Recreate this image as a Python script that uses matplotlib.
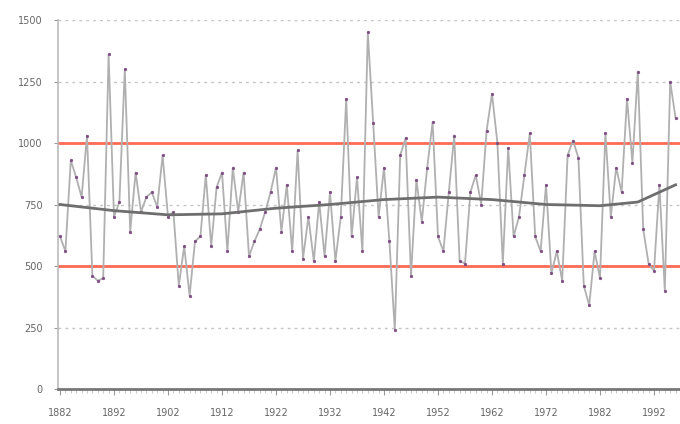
import numpy as np
import matplotlib
matplotlib.use("Agg")
import matplotlib.pyplot as plt
from matplotlib.ticker import MultipleLocator

# ---- data ----
start_year = 1882
values = [620, 560, 930, 860, 780, 1030, 460, 440, 450, 1360,
          700, 760, 1300, 640, 880, 720, 780, 800, 740, 950,
          700, 720, 420, 580, 380, 600, 620, 870, 580, 820,
          880, 560, 900, 720, 880, 540, 600, 650, 720, 800,
          900, 640, 830, 560, 970, 530, 700, 520, 760, 540,
          800, 520, 700, 1180, 620, 860, 560, 1450, 1080, 700,
          900, 600, 240, 950, 1020, 460, 850, 680, 900, 1085,
          620, 560, 800, 1030, 520, 510, 800, 870, 750, 1050,
          1200, 1000, 510, 980, 620, 700, 870, 1040, 620, 560,
          830, 470, 560, 440, 950, 1010, 940, 420, 340, 560,
          450, 1040, 700, 900, 800, 1180, 920, 1290, 650, 510,
          480, 830, 400, 1250, 1100]
years = np.arange(start_year, start_year + len(values))

trend_years = [1882, 1892, 1902, 1912, 1922, 1932, 1942, 1952, 1962, 1972, 1982, 1989, 1996]
trend_vals = [750, 725, 708, 712, 735, 750, 770, 780, 770, 750, 745, 760, 830]

upper_limit = 1000
lower_limit = 500

y_ticks = [0, 250, 500, 750, 1000, 1250, 1500]
x_tick_years = list(range(1882, 1993, 10))

# ---- figure ----
fig = plt.figure(figsize=(6.8, 4.24), dpi=100)
ax = fig.add_axes([58/680, 35/424, 622/680, 369/424])

ax.set_xlim(1882 - 2/5.4, 1882 + (680 - 60)/5.4)
ax.set_ylim(0, 1500)

for yt in y_ticks[1:]:
    ax.axhline(yt, color='#c4c4c4', lw=1.0, ls=(0, (2, 3)), zorder=1)

ax.axhline(upper_limit, color='#ff6a55', lw=2.0, zorder=2)
ax.axhline(lower_limit, color='#ff6a55', lw=2.0, zorder=2)

ax.plot(years, values, color='#b0b0b0', lw=1.3, zorder=3,
        marker='o', ms=2.0, mfc='#7a4a80', mec='#7a4a80', mew=0.3)
ax.plot(trend_years, trend_vals, color='#6e6e6e', lw=2.0, zorder=4)

ax.set_yticks(y_ticks)
ax.set_yticklabels([str(v) for v in y_ticks])
ax.set_xticks(x_tick_years)
ax.set_xticklabels([str(v) for v in x_tick_years])
ax.xaxis.set_minor_locator(MultipleLocator(1))

ax.tick_params(axis='y', length=3, color='#999999', labelsize=7, labelcolor='#666666', pad=8)
ax.tick_params(axis='x', which='major', length=4, color='#999999', labelsize=7, labelcolor='#666666', pad=10)
ax.tick_params(axis='x', which='minor', length=3, color='#c0c0c0')

for s in ['top', 'right']:
    ax.spines[s].set_visible(False)
ax.spines['left'].set_color('#bbbbbb')
ax.spines['left'].set_linewidth(1.2)
ax.spines['bottom'].set_color('#777777')
ax.spines['bottom'].set_linewidth(2.0)

fig.savefig('out.png', dpi=100)
